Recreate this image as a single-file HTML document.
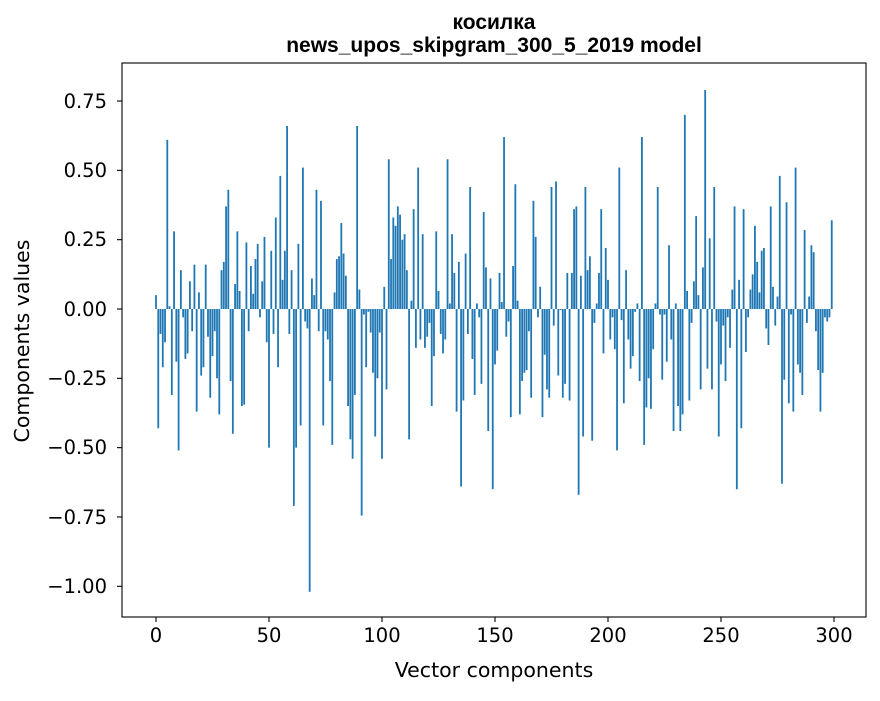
<!DOCTYPE html>
<html><head><meta charset="utf-8"><style>
html,body{margin:0;padding:0;background:#fff;}
svg text{font-family:"DejaVu Sans","Liberation Sans",sans-serif;fill:#000;}
svg text.t{font-family:"Liberation Sans","DejaVu Sans",sans-serif;}
</style></head><body>
<svg id="s" width="880" height="696" viewBox="0 0 880 696" xmlns="http://www.w3.org/2000/svg">
<rect width="880" height="696" fill="#fff"/>
<g id="bars" fill="#1f77b4"></g>
<rect x="122" y="63" width="744" height="554" fill="none" stroke="#000" stroke-width="1.1"/>
<g id="ticks" stroke="#000" stroke-width="1.1"></g>
<g font-size="19.5" text-anchor="middle">
<text x="156" y="642">0</text><text x="269" y="642">50</text><text x="382" y="642">100</text>
<text x="495" y="642">150</text><text x="608" y="642">200</text><text x="721" y="642">250</text><text x="834" y="642">300</text>
</g>
<g font-size="19.5" text-anchor="end">
<text x="107" y="108">0.75</text><text x="107" y="177">0.50</text><text x="107" y="246">0.25</text>
<text x="107" y="316">0.00</text><text x="107" y="385">−0.25</text><text x="107" y="454">−0.50</text>
<text x="107" y="524">−0.75</text><text x="107" y="593">−1.00</text>
</g>
<text x="494" y="677" font-size="20.5" text-anchor="middle">Vector components</text>
<text transform="translate(29,341) rotate(-90)" font-size="20.5" text-anchor="middle">Components values</text>
<text class="t" x="494" y="29" font-size="21" font-weight="bold" text-anchor="middle">косилка</text>
<text class="t" x="494" y="52" font-size="21" font-weight="bold" text-anchor="middle">news_upos_skipgram_300_5_2019 model</text>
</svg>
<script>
var v=[0.05,-0.43,-0.09,-0.21,-0.12,0.61,0.01,-0.31,0.28,-0.19,-0.51,0.14,-0.03,-0.18,-0.16,0.10,-0.08,0.16,-0.37,0.06,
-0.24,-0.21,0.16,-0.10,-0.32,-0.17,-0.08,-0.25,-0.38,0.14,0.17,0.37,0.43,-0.26,-0.45,0.09,0.28,0.065,-0.35,-0.345,
0.24,-0.08,0.155,0.055,0.18,0.235,-0.03,0.10,0.26,-0.12,-0.50,0.21,-0.09,0.33,-0.21,0.48,0.105,0.21,0.66,-0.09,
0.14,-0.71,-0.50,0.235,-0.42,0.51,-0.045,-0.07,-1.02,0.11,0.05,0.43,-0.08,0.39,-0.42,-0.08,-0.11,-0.26,-0.49,0.06,
0.18,0.19,0.31,0.20,0.12,-0.35,-0.47,-0.54,-0.31,0.66,0.07,-0.745,-0.02,-0.21,-0.01,-0.085,-0.23,-0.46,-0.25,-0.085,
-0.54,0.08,-0.29,0.54,0.18,0.33,0.30,0.37,0.34,0.25,0.27,0.14,-0.47,0.03,0.36,-0.14,0.51,-0.11,0.27,-0.14,
-0.10,-0.05,-0.35,-0.17,0.28,0.065,-0.09,-0.16,-0.11,0.54,0.02,0.27,0.13,-0.37,0.17,-0.64,-0.33,0.20,-0.09,0.44,
-0.18,-0.31,0.02,-0.03,-0.27,0.35,0.15,-0.44,0.11,-0.65,-0.20,-0.15,0.13,0.025,0.62,-0.10,-0.045,-0.39,0.155,0.45,
0.03,-0.38,-0.26,-0.23,-0.22,-0.08,-0.32,0.39,0.26,-0.03,0.08,-0.39,-0.165,-0.29,-0.32,0.44,-0.06,0.46,-0.24,-0.004,
-0.32,-0.27,0.13,-0.33,0.13,0.36,0.37,-0.67,0.12,-0.46,0.44,0.14,0.19,-0.475,-0.05,0.02,0.13,0.36,-0.16,0.22,
0.105,-0.11,-0.03,-0.145,-0.51,0.51,-0.04,-0.34,0.14,-0.11,-0.215,-0.17,-0.01,0.02,-0.26,0.62,-0.49,-0.355,-0.25,-0.36,
-0.145,0.02,0.44,-0.02,-0.255,-0.02,-0.19,0.23,-0.11,-0.44,0.02,-0.35,-0.44,-0.38,0.70,0.065,-0.33,-0.05,0.10,0.335,
0.05,-0.29,0.15,0.79,-0.215,0.255,-0.29,0.44,-0.045,-0.46,-0.20,-0.06,-0.26,-0.03,-0.14,0.07,0.37,-0.65,0.105,-0.43,
0.36,-0.155,-0.03,0.07,0.125,0.30,0.17,0.06,0.21,0.22,-0.07,-0.13,0.37,0.08,-0.06,0.045,0.48,-0.63,-0.255,0.385,
-0.34,-0.02,-0.37,0.51,-0.20,-0.23,-0.31,0.285,-0.05,0.045,0.23,0.205,-0.08,-0.22,-0.37,-0.23,-0.03,-0.045,-0.03,0.32];
var ns="http://www.w3.org/2000/svg",g=document.getElementById("bars"),t=document.getElementById("ticks");
function X(i){return 156+2.26*i;}function Y(a){return 309-a*277.3;}
for(var i=0;i<v.length;i++){var r=document.createElementNS(ns,"rect");var y0=Y(0),y1=Y(v[i]);
r.setAttribute("x",X(i)-0.9);r.setAttribute("width",1.8);r.setAttribute("y",Math.min(y0,y1));r.setAttribute("height",Math.abs(y1-y0));g.appendChild(r);}
for(var k=0;k<=6;k++){var l=document.createElementNS(ns,"line");var x=X(k*50);l.setAttribute("x1",x);l.setAttribute("x2",x);l.setAttribute("y1",617);l.setAttribute("y2",622);t.appendChild(l);}
for(var k=-4;k<=3;k++){var l=document.createElementNS(ns,"line");var y=Y(k*0.25);l.setAttribute("x1",117);l.setAttribute("x2",122);l.setAttribute("y1",y);l.setAttribute("y2",y);t.appendChild(l);}
</script>
</body></html>
